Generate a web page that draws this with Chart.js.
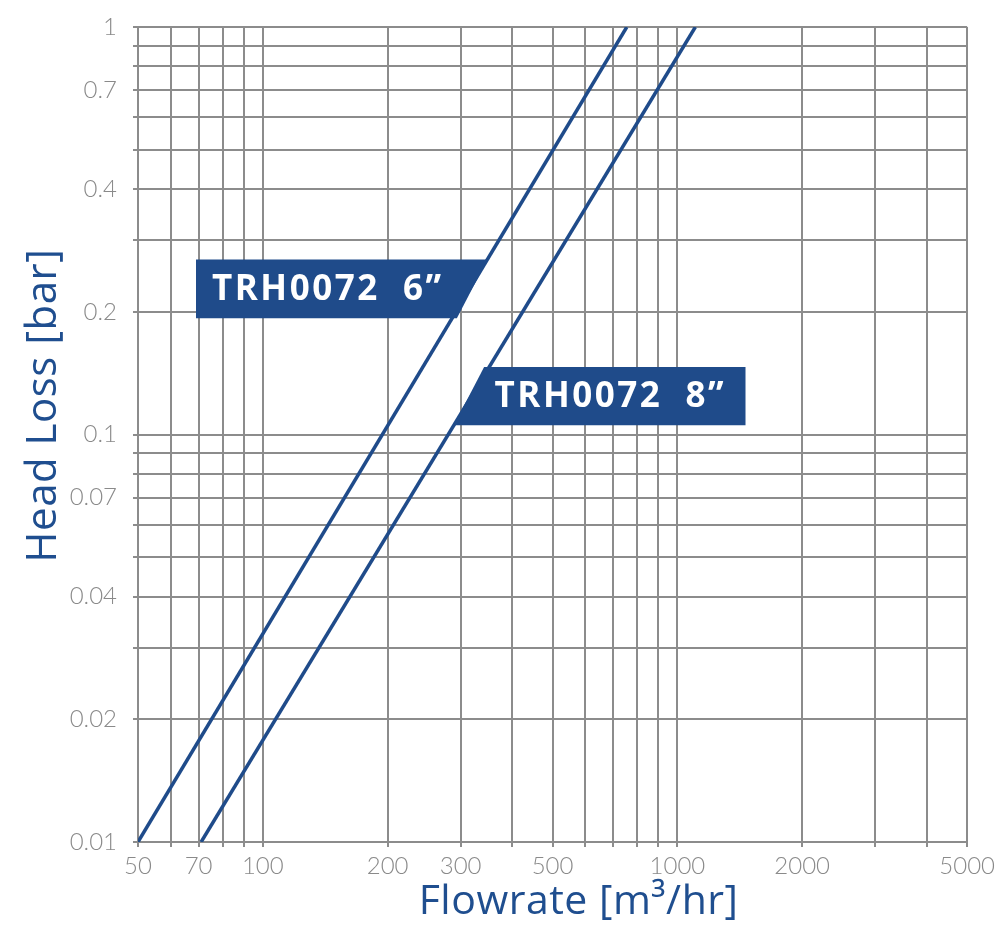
<!DOCTYPE html>
<html>
<head>
<meta charset="utf-8">
<script src="https://cdn.jsdelivr.net/npm/chart.js@4/dist/chart.umd.min.js"></script>
<style>
    html, body { margin: 0; padding: 0; background: #fff; }
    #wrap { width: 1000px; height: 939px; }
</style>
</head>
<body>
<div id="wrap"><canvas id="chart" width="1000" height="939"></canvas></div>
<script>
// values
const flow6 = [50, 755];
const loss6 = [0.01, 1];
const flow8 = [71, 1105];
const loss8 = [0.01, 1];

const xGrid = [50, 60, 70, 80, 90, 100, 200, 300, 400, 500, 600, 700, 800, 900, 1000, 2000, 3000, 4000, 5000];
const xLabels = [50, 70, 100, 200, 300, 500, 1000, 2000, 5000];
const yGrid = [0.01, 0.02, 0.03, 0.04, 0.05, 0.06, 0.07, 0.08, 0.09, 0.1, 0.2, 0.3, 0.4, 0.5, 0.6, 0.7, 0.8, 0.9, 1];
const yLabels = [0.01, 0.02, 0.04, 0.07, 0.1, 0.2, 0.4, 0.7, 1];

const labelNames = ['TRH0072  6\u201d', 'TRH0072  8\u201d'];

const blue = '#1f4b8a';
const gridGray = '#8c8c8c';
const tickFont = { family: 'Lato', size: 24, weight: '300' };

function fmt(v) {
    return String(parseFloat(Number(v).toPrecision(3)));
}
function hasLabel(list, v) {
    return list.some(l => Math.abs(l - v) / l < 1e-6);
}

// pixel x of a straight (log-log) line at a given pixel y
function lineXAt(chart, xs, ys, py) {
    const sx = chart.scales.x, sy = chart.scales.y;
    const x0 = sx.getPixelForValue(xs[0]), y0 = sy.getPixelForValue(ys[0]);
    const x1 = sx.getPixelForValue(xs[1]), y1 = sy.getPixelForValue(ys[1]);
    return x0 + (py - y0) * (x1 - x0) / (y1 - y0);
}

const overlay = {
    id: 'overlay',
    afterDatasetsDraw(chart) {
        const ctx = chart.ctx;
        const sx = chart.scales.x, sy = chart.scales.y;
        const slant = 0.52;
        ctx.save();

        // box for 6" - right corner on the 6" line
        let top = sy.getPixelForValue(0.269), bot = sy.getPixelForValue(0.193);
        let left = sx.getPixelForValue(69);
        let tr = lineXAt(chart, flow6, loss6, top);
        ctx.fillStyle = blue;
        ctx.beginPath();
        ctx.moveTo(left, top);
        ctx.lineTo(tr, top);
        ctx.lineTo(tr - slant * (bot - top), bot);
        ctx.lineTo(left, bot);
        ctx.closePath();
        ctx.fill();
        ctx.fillStyle = '#fff';
        ctx.font = 'bold 35px "Open Sans"';
        ctx.letterSpacing = '2.5px';
        ctx.textBaseline = 'middle';
        ctx.fillText(labelNames[0], left + 16, (top + bot) / 2 + 1);

        // box for 8" - bottom left corner on the 8" line
        top = sy.getPixelForValue(0.1464); bot = sy.getPixelForValue(0.1053);
        const right = sx.getPixelForValue(1460);
        const bl = lineXAt(chart, flow8, loss8, bot);
        ctx.fillStyle = blue;
        ctx.beginPath();
        ctx.moveTo(bl + slant * (bot - top), top);
        ctx.lineTo(right, top);
        ctx.lineTo(right, bot);
        ctx.lineTo(bl, bot);
        ctx.closePath();
        ctx.fill();
        ctx.fillStyle = '#fff';
        ctx.fillText(labelNames[1], right - 251, (top + bot) / 2 + 1);

        // axis titles
        const area = chart.chartArea;
        ctx.letterSpacing = '0.5px';
        ctx.fillStyle = '#1f4e8f';
        ctx.font = '41px "Open Sans"';
        ctx.textAlign = 'center';
        ctx.textBaseline = 'alphabetic';
        ctx.fillText('Flowrate [m\u00b3/hr]', (area.left + area.right) / 2 + 26, 914);
        ctx.translate(56, (area.top + area.bottom) / 2 - 29);
        ctx.rotate(-Math.PI / 2);
        ctx.font = '42px "Open Sans"';
        ctx.fillText('Head Loss [bar]', 0, 0);
        ctx.restore();
    }
};

new Chart(document.getElementById('chart'), {
    type: 'scatter',
    data: {
        datasets: [
            {
                label: '6"',
                data: flow6.map((f, i) => ({ x: f, y: loss6[i] })),
                showLine: true,
                borderColor: blue,
                borderWidth: 3.5,
                pointRadius: 0
            },
            {
                label: '8"',
                data: flow8.map((f, i) => ({ x: f, y: loss8[i] })),
                showLine: true,
                borderColor: blue,
                borderWidth: 3.5,
                pointRadius: 0
            }
        ]
    },
    options: {
        responsive: false,
        animation: false,
        layout: { padding: { top: 27, right: 32, left: 0, bottom: 0 } },
        plugins: { legend: { display: false }, tooltip: { enabled: false } },
        scales: {
            x: {
                type: 'logarithmic',
                min: 50,
                max: 5000,
                afterBuildTicks: s => { s.ticks = xGrid.map(v => ({ value: v })); },
                afterFit: s => { s.height = 97; },
                grid: { color: gridGray, lineWidth: 2, tickLength: 5 },
                border: { color: gridGray, width: 2 },
                ticks: {
                    autoSkip: false,
                    maxRotation: 0,
                    padding: 5,
                    color: '#8a8a8a',
                    font: tickFont,
                    callback: v => hasLabel(xLabels, v) ? fmt(v) : ''
                }
            },
            y: {
                type: 'logarithmic',
                min: 0.01,
                max: 1,
                afterBuildTicks: s => { s.ticks = yGrid.map(v => ({ value: v })); },
                afterFit: s => { s.width = 138; s.paddingTop = 0; s.paddingBottom = 0; },
                grid: { color: gridGray, lineWidth: 2, tickLength: 5 },
                border: { color: gridGray, width: 2 },
                ticks: {
                    autoSkip: false,
                    padding: 16,
                    color: '#8a8a8a',
                    font: tickFont,
                    callback: v => hasLabel(yLabels, v) ? fmt(v) : ''
                }
            }
        }
    },
    plugins: [overlay]
});
</script>
</body>
</html>
